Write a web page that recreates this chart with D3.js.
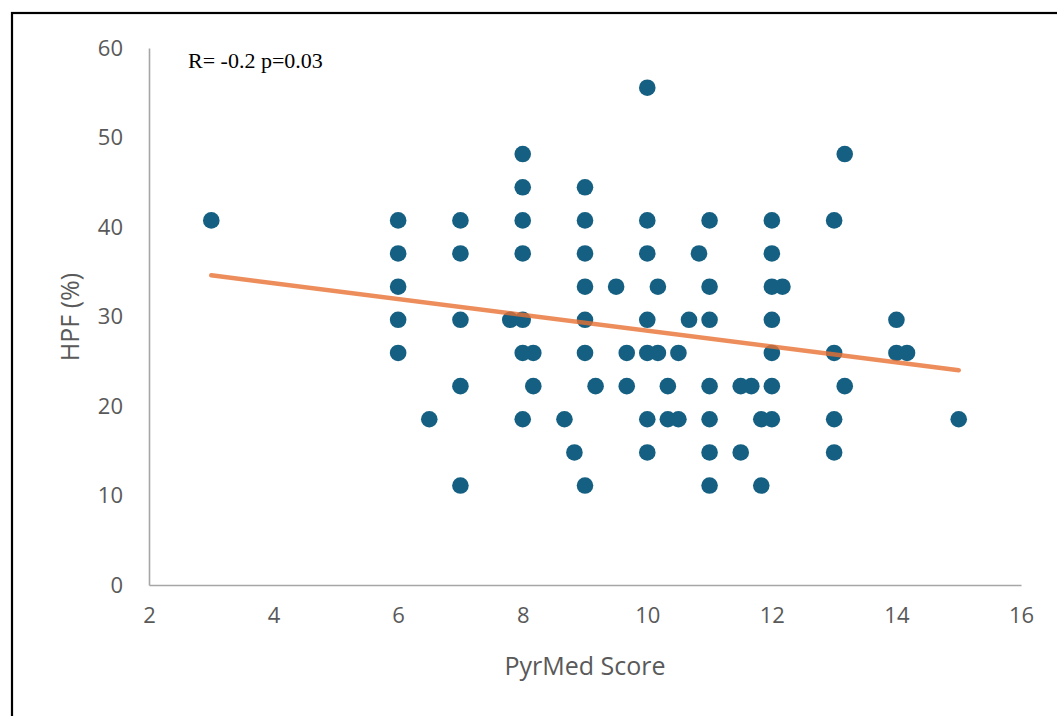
<!DOCTYPE html>
<html>
<head>
<meta charset="utf-8">
<script src="https://cdn.jsdelivr.net/npm/d3@7"></script>
<style>
  body { margin: 0; background: white; }
</style>
</head>
<body>
<script>
// PyrMed score vs HPF (%), one entry per subject
const pyrMed = [
  3,
  6, 6, 6, 6, 6,
  6.5,
  7, 7, 7, 7, 7,
  7.8,
  8, 8, 8, 8, 8, 8, 8,
  8.17, 8.17,
  8.67, 8.83,
  9, 9, 9, 9, 9, 9, 9,
  9.17, 9.5, 9.67, 9.67,
  10, 10, 10, 10, 10, 10, 10,
  10.17, 10.17, 10.33, 10.33, 10.5, 10.5, 10.67, 10.83,
  11, 11, 11, 11, 11, 11, 11,
  11.5, 11.5, 11.67, 11.83, 11.83,
  12, 12, 12, 12, 12, 12, 12,
  12.17,
  13, 13, 13, 13,
  13.17, 13.17,
  14, 14, 14.17,
  15
];
const hpf = [
  40.74,
  40.74, 37.04, 33.33, 29.63, 25.93,
  18.52,
  40.74, 37.04, 29.63, 22.22, 11.11,
  29.63,
  48.15, 44.44, 40.74, 37.04, 29.63, 25.93, 18.52,
  25.93, 22.22,
  18.52, 14.81,
  44.44, 40.74, 37.04, 33.33, 29.63, 25.93, 11.11,
  22.22, 33.33, 25.93, 22.22,
  55.56, 40.74, 37.04, 29.63, 25.93, 18.52, 14.81,
  33.33, 25.93, 22.22, 18.52, 25.93, 18.52, 29.63, 37.04,
  40.74, 33.33, 29.63, 22.22, 18.52, 14.81, 11.11,
  22.22, 14.81, 22.22, 18.52, 11.11,
  40.74, 37.04, 33.33, 29.63, 25.93, 22.22, 18.52,
  33.33,
  40.74, 25.93, 18.52, 14.81,
  48.15, 22.22,
  29.63, 25.93, 25.93,
  18.52
];
// linear trendline end points
const trendX = [3, 15];
const trendY = [34.6, 24.0];

const xTicks = [2, 4, 6, 8, 10, 12, 14, 16];
const yTicks = [0, 10, 20, 30, 40, 50, 60];
const statText = 'R= -0.2 p=0.03';

const width = 1057, height = 716;
const margin = { left: 149, right: 36, top: 48, bottom: 131 };

const svg = d3.select('body')
  .append('svg')
  .attr('width', width)
  .attr('height', height);

svg.append('rect')
  .attr('width', width)
  .attr('height', height)
  .attr('fill', 'white');

// frame around the figure
svg.append('rect')
  .attr('x', 12)
  .attr('y', 13)
  .attr('width', 1100)
  .attr('height', 800)
  .attr('fill', 'none')
  .attr('stroke', 'black')
  .attr('stroke-width', 2.2);

const x = d3.scaleLinear()
  .domain([2, 16])
  .range([margin.left, width - margin.right]);

const y = d3.scaleLinear()
  .domain([0, 60])
  .range([height - margin.bottom, margin.top]);

const tickFont = '"Open Sans", sans-serif';

// x axis
const xAxis = svg.append('g')
  .attr('transform', `translate(0,${y(0)})`)
  .call(d3.axisBottom(x).tickValues(xTicks).tickSize(0).tickPadding(22));
xAxis.select('.domain').attr('stroke', '#a6a6a6').attr('stroke-width', 1.6);
xAxis.selectAll('text')
  .attr('font-family', tickFont)
  .attr('font-size', 22)
  .attr('fill', '#595959');

// y axis
const yAxis = svg.append('g')
  .attr('transform', `translate(${x(2)},0)`)
  .call(d3.axisLeft(y).tickValues(yTicks).tickSize(0).tickPadding(26));
yAxis.select('.domain').attr('stroke', '#a6a6a6').attr('stroke-width', 1.6);
yAxis.selectAll('text')
  .attr('font-family', tickFont)
  .attr('font-size', 22)
  .attr('fill', '#595959');

// points
svg.selectAll('circle.pt')
  .data(pyrMed.map((d, i) => [d, hpf[i]]))
  .enter()
  .append('circle')
  .attr('class', 'pt')
  .attr('cx', d => x(d[0]))
  .attr('cy', d => y(d[1]))
  .attr('r', 8.3)
  .attr('fill', '#156082');

// trendline
svg.append('path')
  .datum(trendX.map((d, i) => [d, trendY[i]]))
  .attr('d', d3.line().x(d => x(d[0])).y(d => y(d[1])))
  .attr('fill', 'none')
  .attr('stroke', '#E97132')
  .attr('stroke-opacity', 0.8)
  .attr('stroke-width', 4.5)
  .attr('stroke-linecap', 'round');

// axis titles
svg.append('text')
  .attr('x', 585)
  .attr('y', 675)
  .attr('text-anchor', 'middle')
  .attr('font-family', tickFont)
  .attr('font-size', 25)
  .attr('fill', '#595959')
  .text('PyrMed Score');

svg.append('text')
  .attr('transform', 'translate(79,317) rotate(-90)')
  .attr('text-anchor', 'middle')
  .attr('font-family', tickFont)
  .attr('font-size', 25)
  .attr('fill', '#595959')
  .text('HPF (%)');

// correlation note
svg.append('text')
  .attr('x', 188)
  .attr('y', 68)
  .attr('font-family', '"Liberation Serif", "Times New Roman", serif')
  .attr('font-size', 22)
  .attr('fill', 'black')
  .text(statText);
</script>
</body>
</html>
